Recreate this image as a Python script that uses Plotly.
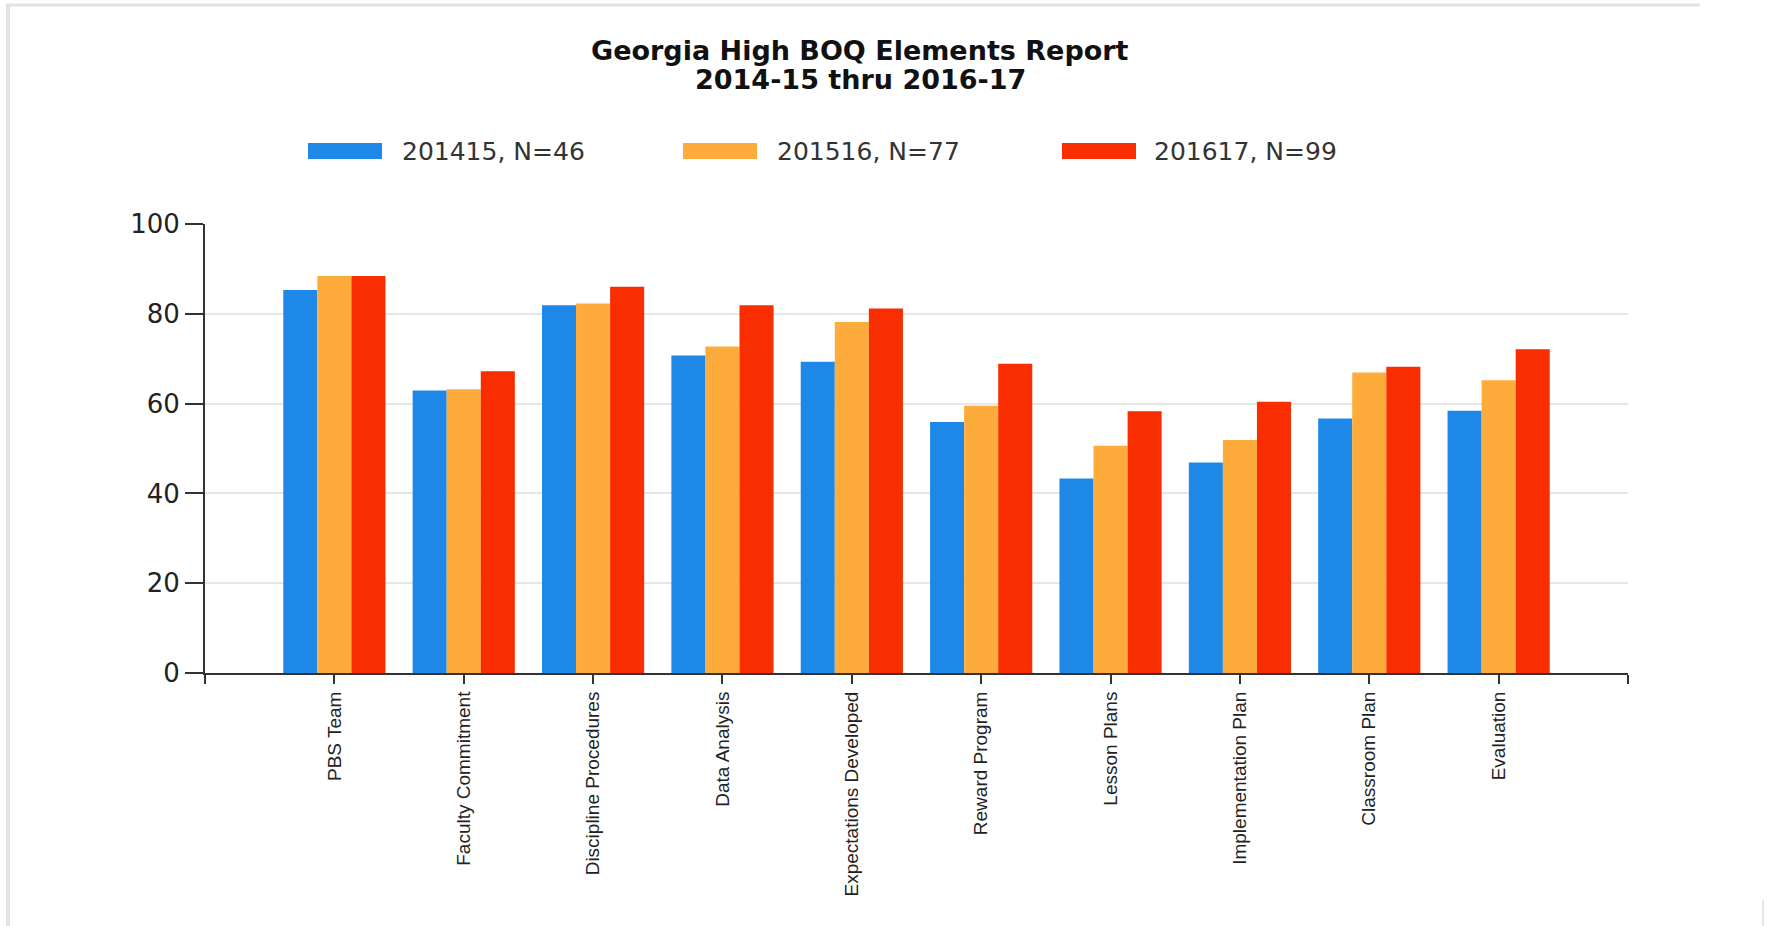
import plotly.graph_objects as go

# ---------------- data ----------------
categories = ["PBS Team", "Faculty Commitment", "Discipline Procedures", "Data Analysis",
              "Expectations Developed", "Reward Program", "Lesson Plans",
              "Implementation Plan", "Classroom Plan", "Evaluation"]
series_names = ["201415, N=46", "201516, N=77", "201617, N=99"]
values_201415 = [85.3, 62.9, 81.9, 70.7, 69.3, 55.9, 43.3, 46.9, 56.7, 58.4]
values_201516 = [88.4, 63.2, 82.3, 72.7, 78.2, 59.5, 50.6, 51.9, 66.9, 65.2]
values_201617 = [88.4, 67.2, 86.0, 81.9, 81.2, 68.9, 58.3, 60.4, 68.2, 72.1]
y_ticks = [0, 20, 40, 60, 80, 100]
title_lines = ["Georgia High BOQ Elements Report", "2014-15 thru 2016-17"]

colors = ["#1e88e8", "#fdab3b", "#f82d00"]
series_values = [values_201415, values_201516, values_201617]

# ---------------- geometry helpers ----------------
W, H = 1771, 926
ML, MR, MT, MB = 205, 143, 224, 253
PW = W - ML - MR
PH = H - MT - MB


def px(x):
    return (x - ML) / PW


def py(y):
    return (H - MB - y) / PH


xs = list(range(len(categories)))

fig = go.Figure()
for name, vals, col in zip(series_names, series_values, colors):
    fig.add_trace(go.Bar(x=xs, y=vals, name=name, marker=dict(color=col, line=dict(width=0)),
                         showlegend=False))

tickvals = [-1] + xs + [len(categories)]
ticktext = [""] + categories + [""]

fig.update_layout(
    width=W, height=H,
    margin=dict(l=ML, r=MR, t=MT, b=MB, pad=0),
    paper_bgcolor="white", plot_bgcolor="white",
    barmode="group", bargap=0.21, bargroupgap=0,
    font=dict(family="Liberation Sans, Arial, sans-serif", color="#222222"),
    xaxis=dict(range=[-1, len(categories)], tickmode="array", tickvals=tickvals, ticktext=ticktext,
               tickangle=-90, ticks="outside", ticklen=9, tickwidth=2, tickcolor="#333333",
               showline=True, linecolor="#333333", linewidth=2, showgrid=False, zeroline=False,
               tickfont=dict(size=19, family="Liberation Sans, Arial, sans-serif", color="#222222")),
    yaxis=dict(range=[0, 100], tickmode="array", tickvals=y_ticks, ticks="outside", ticklen=18,
               tickwidth=2, tickcolor="#333333", showline=True, linecolor="#333333", linewidth=2,
               gridcolor="#e6e6e6", gridwidth=2, zeroline=False,
               tickfont=dict(size=26, family="DejaVu Sans, Verdana, sans-serif", color="#222222")),
)

annotations = []
# title lines
annotations.append(dict(text="<b>%s</b>" % title_lines[0], x=px(860), y=py(50), xref="paper", yref="paper",
                        xanchor="center", yanchor="middle", showarrow=False,
                        font=dict(size=27, family="DejaVu Sans, Verdana, sans-serif", color="#111111")))
annotations.append(dict(text="<b>%s</b>" % title_lines[1], x=px(860), y=py(80), xref="paper", yref="paper",
                        xanchor="center", yanchor="middle", showarrow=False,
                        font=dict(size=27, family="DejaVu Sans, Verdana, sans-serif", color="#111111")))

shapes = []
# legend (drawn manually to get wide swatches)
swatch_x = [308, 683, 1062]
text_x = [400, 775, 1152]
for sx, tx, name, col in zip(swatch_x, text_x, series_names, colors):
    shapes.append(dict(type="rect", xref="paper", yref="paper", x0=px(sx), x1=px(sx + 74),
                       y0=py(159), y1=py(143), fillcolor=col, line=dict(width=0)))
    annotations.append(dict(text=name, x=px(tx), y=py(151), xref="paper", yref="paper",
                            xanchor="left", yanchor="middle", showarrow=False,
                            font=dict(size=25, family="DejaVu Sans, Verdana, sans-serif", color="#333333")))

# screenshot frame lines
shapes.append(dict(type="line", xref="paper", yref="paper", x0=px(6), x1=px(1700), y0=py(5), y1=py(5),
                   line=dict(color="#e2e2de", width=3)))
shapes.append(dict(type="line", xref="paper", yref="paper", x0=px(8), x1=px(8), y0=py(5), y1=py(926),
                   line=dict(color="#e2e2de", width=4)))
shapes.append(dict(type="line", xref="paper", yref="paper", x0=px(1763), x1=px(1763), y0=py(900), y1=py(926),
                   line=dict(color="#cccccc", width=1)))

fig.update_layout(annotations=annotations, shapes=shapes)

fig.write_html("out.html")
